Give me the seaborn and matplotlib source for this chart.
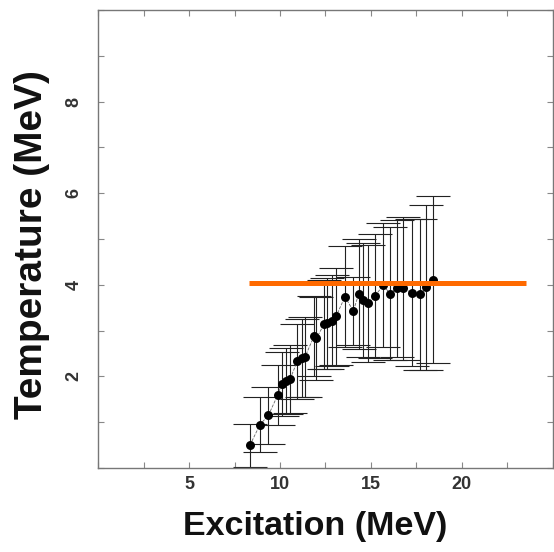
import matplotlib
matplotlib.use("Agg")
import matplotlib.pyplot as plt
import seaborn as sns
import pandas as pd
from matplotlib.ticker import MultipleLocator, FixedLocator

# ---- data ----
excitation = [8.35, 8.9, 9.36, 9.87, 10.09, 10.33, 10.55, 10.95, 11.19, 11.37,
              11.87, 12.0, 12.42, 12.6, 12.84, 13.08, 13.57, 14.03, 14.32, 14.58,
              14.82, 15.22, 15.68, 16.04, 16.41, 16.78, 17.23, 17.69, 18.02, 18.42]
temperature = [0.50, 0.95, 1.15, 1.59, 1.83, 1.90, 1.94, 2.33, 2.41, 2.42,
               2.88, 2.83, 3.14, 3.16, 3.22, 3.31, 3.74, 3.43, 3.79, 3.67,
               3.60, 3.76, 3.99, 3.81, 3.92, 3.92, 3.83, 3.79, 3.95, 4.11]
temp_err = [0.47, 0.60, 0.63, 0.66, 0.70, 0.72, 0.74, 0.82, 0.85, 0.87,
            0.88, 0.90, 0.97, 0.99, 1.00, 1.05, 1.10, 0.75, 1.20, 1.25,
            1.28, 1.35, 1.35, 1.45, 1.50, 1.55, 1.60, 1.65, 1.80, 1.82]
limit_temp = 4.03
limit_span = [8.3, 23.5]
x_tick_labels = [5, 10, 15, 20]
y_tick_labels = [2, 4, 6, 8]

df = pd.DataFrame({"Excitation": excitation, "Temperature": temperature, "err": temp_err})

sns.set_theme(style="ticks")
plt.rcParams["font.family"] = ["Liberation Sans", "DejaVu Sans"]

fig = plt.figure(figsize=(5.54, 5.52), dpi=100)
ax = fig.add_axes([0.177, 0.152, 0.821, 0.830])

# error bars
ax.errorbar(df["Excitation"], df["Temperature"], yerr=df["err"], fmt="none",
            ecolor="#222222", elinewidth=0.8, capsize=12.3, capthick=0.8, zorder=2)
# thin dashed connecting line
sns.lineplot(data=df, x="Excitation", y="Temperature", ax=ax, color="#666666",
             linewidth=0.6, linestyle="--", sort=False, zorder=3)
# markers
sns.scatterplot(data=df, x="Excitation", y="Temperature", ax=ax, color="black",
                s=42, edgecolor="black", linewidth=0, zorder=4)
# orange reference line
ax.hlines(limit_temp, limit_span[0], limit_span[1], colors="#FF6A00",
          linewidth=3.6, zorder=5)

ax.set_xlim(0, 25)
ax.set_ylim(0, 10)
ax.xaxis.set_major_locator(FixedLocator(x_tick_labels))
ax.xaxis.set_minor_locator(MultipleLocator(2.5))
ax.yaxis.set_major_locator(FixedLocator(y_tick_labels))
ax.yaxis.set_minor_locator(MultipleLocator(1))

ax.tick_params(which="both", direction="in", top=True, right=True,
               color="#888888", width=0.8)
ax.tick_params(which="major", length=4, labelsize=13, labelcolor="#333333")
ax.tick_params(which="minor", length=4)
ax.tick_params(axis="x", which="major", pad=6)
ax.tick_params(axis="y", which="major", labelrotation=90, pad=11)
for lab in ax.get_xticklabels() + ax.get_yticklabels():
    lab.set_fontweight("bold")
for lab in ax.get_yticklabels():
    lab.set_va("center")

for sp in ax.spines.values():
    sp.set_color("#777777")
    sp.set_linewidth(1.0)

ax.set_xlabel("Excitation (MeV)", fontsize=24.5, fontweight="bold", color="#111111")
ax.set_ylabel("Temperature (MeV)", fontsize=28, fontweight="bold", color="#111111")
ax.xaxis.set_label_coords(0.477, -0.094)
ax.yaxis.set_label_coords(-0.105, 0.487)

fig.savefig("out.png", dpi=100)
